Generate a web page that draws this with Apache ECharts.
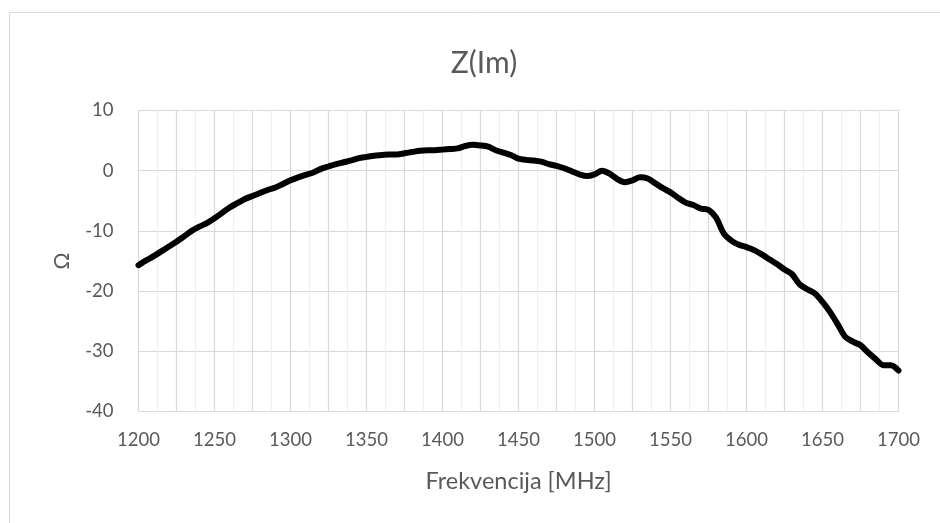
<!DOCTYPE html>
<html>
<head>
<meta charset="utf-8">
<script src="https://cdn.jsdelivr.net/npm/echarts@6/dist/echarts.min.js"></script>
<style>
  html, body { margin: 0; padding: 0; background: #ffffff; }
  #chart { width: 940px; height: 523px; }
</style>
</head>
<body>
<div id="chart"></div>
<script>
const titleText = 'Z(Im)';
const xAxisName = 'Frekvencija [MHz]';
const yAxisName = 'Ω';

const freq = [
  1200, 1205, 1210, 1215, 1220, 1225, 1230, 1235, 1240, 1245,
  1250, 1255, 1260, 1265, 1270, 1275, 1280, 1285, 1290, 1295,
  1300, 1305, 1310, 1315, 1320, 1325, 1330, 1335, 1340, 1345,
  1350, 1355, 1360, 1365, 1370, 1375, 1380, 1385, 1390, 1395,
  1400, 1405, 1410, 1415, 1420, 1425, 1430, 1435, 1440, 1445,
  1450, 1455, 1460, 1465, 1470, 1475, 1480, 1485, 1490, 1495,
  1500, 1505, 1510, 1515, 1520, 1525, 1530, 1535, 1540, 1545,
  1550, 1555, 1560, 1565, 1570, 1575, 1580, 1585, 1590, 1595,
  1600, 1605, 1610, 1615, 1620, 1625, 1630, 1635, 1640, 1645,
  1650, 1655, 1660, 1665, 1670, 1675, 1680, 1685, 1690, 1695,
  1700
];

const zIm = [
  -15.7, -14.9, -14.2, -13.4, -12.6, -11.8, -10.9, -10.0, -9.3, -8.7,
  -7.9, -7.0, -6.1, -5.4, -4.7, -4.2, -3.7, -3.2, -2.8, -2.2,
  -1.6, -1.1, -0.7, -0.3, 0.3, 0.7, 1.1, 1.4, 1.7, 2.1,
  2.3, 2.5, 2.6, 2.7, 2.7, 2.9, 3.1, 3.3, 3.4, 3.4,
  3.5, 3.6, 3.7, 4.1, 4.3, 4.2, 4.0, 3.4, 3.0, 2.6,
  2.0, 1.8, 1.7, 1.5, 1.1, 0.8, 0.4, -0.1, -0.6, -0.9,
  -0.6, 0.0, -0.5, -1.4, -1.9, -1.6, -1.1, -1.3, -2.1, -2.9,
  -3.6, -4.5, -5.3, -5.7, -6.3, -6.5, -7.8, -10.4, -11.6, -12.3,
  -12.7, -13.2, -13.9, -14.7, -15.5, -16.4, -17.2, -18.9, -19.7, -20.4,
  -21.8, -23.5, -25.5, -27.6, -28.4, -29.0, -30.2, -31.3, -32.3, -32.3,
  -33.2
];

const xMin = 1200, xMax = 1700, xGridStep = 25, xLabelStep = 50;
const yMin = -40, yMax = 10, yStep = 10;

const FONT = 'Lato, "Open Sans", sans-serif';
const TXT = '#595959';

const chart = echarts.init(document.getElementById('chart'), null, { renderer: 'canvas' });
chart.setOption({
  backgroundColor: '#ffffff',
  animation: false,
  graphic: [{
    type: 'rect',
    shape: { x: 9.5, y: 12.5, width: 1000, height: 1000 },
    style: { fill: 'none', stroke: '#d9d9d9', lineWidth: 1 },
    silent: true,
    z: -1
  }],
  title: {
    text: titleText,
    left: 479,
    top: 43,
    textAlign: 'center',
    textStyle: { fontFamily: FONT, fontSize: 30, fontWeight: 'normal', color: TXT }
  },
  grid: { left: 138.5, right: 41.5, top: 110.5, bottom: 111.5 },
  xAxis: {
    type: 'value',
    min: xMin, max: xMax, interval: xGridStep,
    name: xAxisName,
    nameLocation: 'middle',
    nameGap: 58,
    nameTextStyle: { fontFamily: FONT, fontSize: 23.5, color: TXT },
    axisLine: { show: true, lineStyle: { color: '#d9d9d9', width: 1 } },
    axisTick: { show: false },
    axisLabel: {
      margin: 19,
      fontFamily: FONT, fontSize: 18.5, color: TXT,
      formatter: v => (v % xLabelStep === 0 ? String(v) : '')
    },
    splitLine: { show: true, lineStyle: { color: '#d9d9d9', width: 1.2 } },
    minorTick: { show: false, splitNumber: 2 },
    minorSplitLine: { show: true, lineStyle: { color: '#efefef', width: 1.2 } }
  },
  yAxis: {
    type: 'value',
    min: yMin, max: yMax, interval: yStep,
    name: yAxisName,
    nameLocation: 'middle',
    nameRotate: 90,
    nameGap: 66,
    nameTextStyle: { fontFamily: FONT, fontSize: 21, color: TXT },
    axisLine: { show: false },
    axisTick: { show: false },
    axisLabel: { margin: 25, fontFamily: FONT, fontSize: 18.5, color: TXT },
    splitLine: { show: true, lineStyle: { color: '#d9d9d9', width: 1.2 } }
  },
  series: [{
    type: 'line',
    data: freq.map((f, i) => [f, zIm[i]]),
    showSymbol: false,
    smooth: 0.3,
    lineStyle: { color: '#000000', width: 6, cap: 'round', join: 'round' },
    clip: false
  }]
});
</script>
</body>
</html>
